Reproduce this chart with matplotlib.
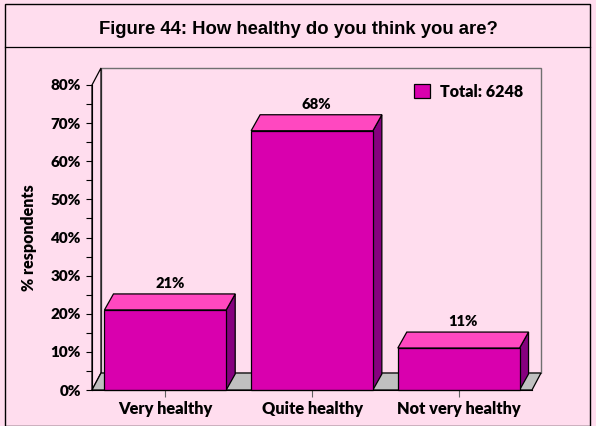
import matplotlib
matplotlib.use("Agg")
import matplotlib.pyplot as plt
from matplotlib.patches import Polygon, Rectangle, Patch
from matplotlib.lines import Line2D
from matplotlib.ticker import MultipleLocator, FuncFormatter

categories = ["Very healthy", "Quite healthy", "Not very healthy"]
values = [21, 68, 11]
value_labels = ["21%", "68%", "11%"]
title = "Figure 44: How healthy do you think you are?"
legend_label = "Total: 6248"
ylabel = "% respondents"

BG = "#FFDDEE"
FRONT = "#D900AE"
TOP = "#FF48C0"
SIDE = "#86007F"
FLOOR = "#C0C0C0"
FONT = "Lato"
WEIGHT = "heavy"

W, H = 596, 426
fig = plt.figure(figsize=(W / 100, H / 100), dpi=100, facecolor=BG)

# frame + title band (figure coordinates)
fig.add_artist(Rectangle((5 / W, 0), (590 - 5) / W, (H - 4) / H, transform=fig.transFigure,
                         fill=False, edgecolor="black", lw=1.0))
fig.add_artist(Line2D([5 / W, 590 / W], [1 - 47 / H, 1 - 47 / H], transform=fig.transFigure,
                      color="black", lw=0.9))
fig.text(0.5, 1 - 30 / H, title, ha="center", va="center", fontsize=13.3,
         fontweight="bold", family="Liberation Sans")

# plot axes: front plane
L, R, T, B = 92, 532, 85, 390
ax = fig.add_axes([L / W, 1 - B / H, (R - L) / W, (B - T) / H])
ax.set_facecolor("none")
ax.set_xlim(-0.5, len(categories) - 0.5)
ax.set_ylim(0, 80)

px_x = (len(categories)) / (R - L)
px_y = 80 / (B - T)
dx = 9 * px_x
dy = 17 * px_y
bdx = 9 * px_x
bdy = 16 * px_y
x0, x1 = -0.5, len(categories) - 0.5

kw = dict(clip_on=False)
# back wall
ax.add_patch(Polygon([(x0 + dx, dy), (x1 + dx, dy), (x1 + dx, 80 + dy), (x0 + dx, 80 + dy)],
                     closed=True, facecolor=BG, edgecolor="#707070", lw=1.0, zorder=1, **kw))
# left wall
ax.add_patch(Polygon([(x0, 0), (x0 + dx, dy), (x0 + dx, 80 + dy), (x0, 80)],
                     closed=True, facecolor=BG, edgecolor="black", lw=0.9, zorder=1.5, **kw))
# floor
ax.add_patch(Polygon([(x0, 0), (x1, 0), (x1 + dx, dy), (x0 + dx, dy)],
                     closed=True, facecolor=FLOOR, edgecolor="black", lw=0.9, zorder=2, **kw))

hw = 0.415
for i, v in enumerate(values):
    l, r = i - hw, i + hw
    ax.add_patch(Polygon([(r, 0), (r + bdx, bdy), (r + bdx, v + bdy), (r, v)], closed=True,
                         facecolor=SIDE, edgecolor="black", lw=0.9, zorder=3, **kw))
    ax.add_patch(Polygon([(l, v), (r, v), (r + bdx, v + bdy), (l + bdx, v + bdy)], closed=True,
                         facecolor=TOP, edgecolor="black", lw=0.9, zorder=3, **kw))
    ax.add_patch(Polygon([(l, 0), (r, 0), (r, v), (l, v)], closed=True,
                         facecolor=FRONT, edgecolor="black", lw=0.9, zorder=4, **kw))
    ax.text(i + bdx / 2, v + bdy + 1.0, value_labels[i], ha="center", va="bottom",
            fontsize=10.6, fontweight=WEIGHT, family=FONT, zorder=5)

for s in ["top", "right"]:
    ax.spines[s].set_visible(False)
ax.spines["left"].set_color("black")
ax.spines["bottom"].set_color("black")
ax.spines["left"].set_zorder(6)
ax.spines["bottom"].set_zorder(6)

ax.yaxis.set_major_locator(MultipleLocator(10))
ax.yaxis.set_minor_locator(MultipleLocator(5))
ax.yaxis.set_major_formatter(FuncFormatter(lambda v, p: f"{int(v)}%"))
ax.tick_params(axis="y", which="both", direction="out", length=4, width=0.8, pad=4)
ax.set_xticks(range(len(categories)))
ax.set_xticklabels(categories)
ax.tick_params(axis="x", direction="out", length=5, width=0.8, color="#606060", pad=3)
for lab in ax.get_yticklabels():
    lab.set_fontweight(WEIGHT); lab.set_family(FONT); lab.set_fontsize(11)
for lab in ax.get_xticklabels():
    lab.set_fontweight(WEIGHT); lab.set_family(FONT); lab.set_fontsize(11.8)

ax.set_ylabel(ylabel, fontsize=11.5, fontweight=WEIGHT, family=FONT, labelpad=10)

leg = ax.legend(handles=[Patch(facecolor=FRONT, edgecolor="black", lw=0.9, label=legend_label)],
                loc="center left", bbox_to_anchor=(0.714, 0.978), frameon=False, borderpad=0,
                prop=dict(family=FONT, weight=WEIGHT, size=11.5),
                handlelength=1.0, handleheight=1.0, handletextpad=0.6)

fig.savefig("out.png", dpi=100, facecolor=BG)
